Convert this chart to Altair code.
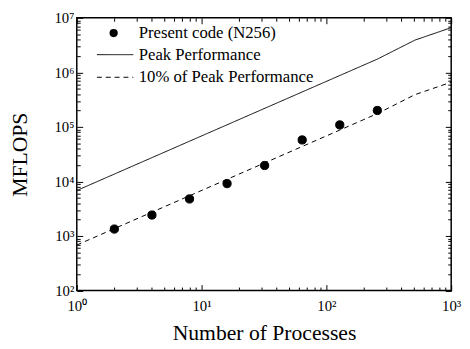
import altair as alt
import pandas as pd

# ---- data ----
point_series = ["Present code (N256)"]
line_series = ["Peak Performance", "10% of Peak Performance"]

procs = [2, 4, 8, 16, 32, 64, 128, 256]
mflops = [1340, 2420, 4770, 9130, 19600, 57600, 108700, 200000]

peak_procs = [1, 256, 512, 1000]
peak_mflops = [6820, 1750000, 3900000, 6600000]

tenth_procs = [1, 256, 512, 1000]
tenth_mflops = [682, 175000, 390000, 660000]

x_ticks = [m * 10 ** e for e in range(0, 3) for m in range(1, 10)] + [1000]
y_ticks = [m * 10 ** e for e in range(2, 7) for m in range(1, 10)] + [10000000]

# ---- tables ----
line_df = pd.DataFrame({
    "x": peak_procs + tenth_procs,
    "y": peak_mflops + tenth_mflops,
    "series": [line_series[0]] * len(peak_procs) + [line_series[1]] * len(tenth_procs),
})
pt_df = pd.DataFrame({"x": procs, "y": mflops, "series": point_series * len(procs)})

LOGV = "(log(datum.value)/LN10)"
IS_MAJOR = f"abs({LOGV} - round({LOGV})) < 0.001"
LABEL = (f"{IS_MAJOR} ? '10' + substring('⁰¹²³⁴⁵⁶⁷⁸⁹', round({LOGV}), round({LOGV})+1) : ''")
MINOR_TEST = f"abs({LOGV} - round({LOGV})) > 0.001"

MAJOR = 6
tick_dash = {"condition": {"test": MINOR_TEST, "value": [0, 2.5, 3.5, 0]}, "value": [6, 0]}

FONT = "Liberation Serif"


def make_axis(orient, values, labels, title_font=22):
    kw = dict(
        orient=orient, values=values, offset=-MAJOR, tickSize=MAJOR, tickColor="black",
        tickWidth=1, tickDash=tick_dash, domain=False, grid=False,
        labelOverlap=False, labelFlush=False, labelBound=False,
    )
    if labels:
        kw.update(labelExpr=LABEL, labelFont=FONT, labelFontSize=15, labelColor="black",
                  labelPadding=8 if orient == "bottom" else 3,
                  titleFont=FONT, titleFontSize=title_font, titleFontWeight="normal",
                  titleColor="black", titlePadding=10 if orient == "bottom" else 23)
    else:
        kw.update(labels=False)
    return alt.Axis(**kw)


xscale = alt.Scale(type="log", domain=[1, 1000], nice=False)
yscale = alt.Scale(type="log", domain=[100, 10000000], nice=False)

SYM = 70
stroke_path = "M-4.42,0H4.42"

common = dict(title=None, orient="none", padding=0, labelFont=FONT, labelFontSize=17,
              labelColor="black", labelLimit=400, symbolSize=SYM, rowPadding=5)

legend_pts = alt.Legend(legendX=29, legendY=7, labelOffset=17, symbolType="circle",
                        symbolFillColor="black", symbolStrokeColor="black", **common)
legend_lines = alt.Legend(legendX=30.5, legendY=29, labelOffset=15.5, symbolType=stroke_path,
                          symbolStrokeColor="black", symbolStrokeWidth=1, **common)

lines = alt.Chart(line_df).mark_line(color="black", strokeWidth=1).encode(
    x=alt.X("x:Q", scale=xscale, axis=make_axis("bottom", x_ticks, True), title="Number of Processes"),
    y=alt.Y("y:Q", scale=yscale, axis=make_axis("left", y_ticks, True), title="MFLOPS"),
    strokeDash=alt.StrokeDash("series:N", scale=alt.Scale(domain=line_series,
                              range=[[1, 0], [5, 4]]), legend=legend_lines),
)

points = alt.Chart(pt_df).mark_point(filled=True, size=SYM, fill="black", stroke="black",
                                     strokeWidth=1, opacity=1).encode(
    x=alt.X("x:Q", scale=xscale, axis=make_axis("top", x_ticks, False), title=None),
    y=alt.Y("y:Q", scale=yscale, axis=make_axis("right", y_ticks, False), title=None),
    shape=alt.Shape("series:N", scale=alt.Scale(domain=point_series, range=["circle"]),
                    legend=legend_pts),
)

chart = (
    alt.layer(lines, points)
    .resolve_axis(x="independent", y="independent")
    .properties(
        width=381, height=277.5, autosize="none",
        padding={"left": 70, "top": 7, "right": 11, "bottom": 55},
    )
    .configure(font=FONT)
    .configure_legend(labelFont=FONT)
    .configure_axis(labelFont=FONT, titleFont=FONT)
    .configure_view(stroke="black", strokeWidth=1.5)
)

chart.save("out.html", embed_options={"renderer": "svg", "actions": False})
